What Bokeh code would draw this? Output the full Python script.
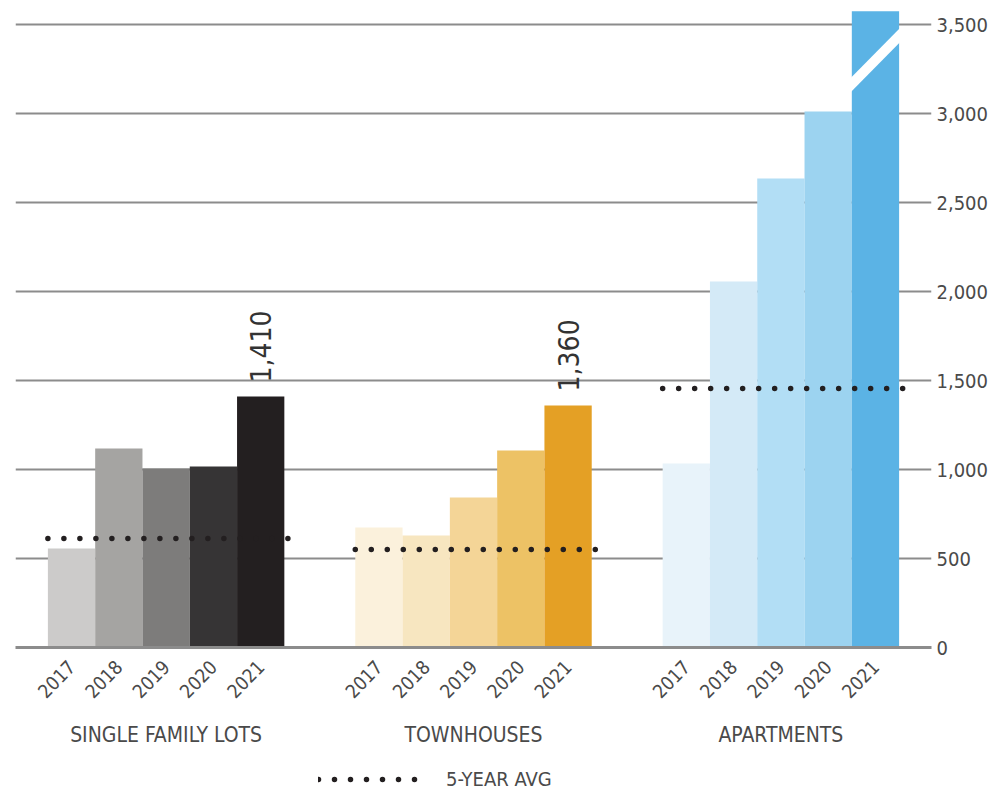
import math
from bokeh.plotting import figure
from bokeh.layouts import column
from bokeh.models import (ColumnDataSource, FactorRange, FixedTicker, NumeralTickFormatter,
                          Legend, LegendItem, Range1d)
from bokeh.core.properties import value
from bokeh.embed import file_html
from bokeh.resources import INLINE

# ---------------- data ----------------
categories = ["SINGLE FAMILY LOTS", "TOWNHOUSES", "APARTMENTS"]
years = ["2017", "2018", "2019", "2020", "2021"]
single_family = [556, 1118, 1006, 1017, 1410]
townhouses = [674, 629, 843, 1107, 1360]
apartments = [1034, 2056, 2635, 3011, 3575]   # 2021 bar is drawn truncated (axis break)
five_year_avg = [612, 551, 1455]
value_labels = ["1,410", "1,360"]               # labels on the 2021 bars of the first two groups
y_ticks = [0, 500, 1000, 1500, 2000, 2500, 3000, 3500]
legend_label = "5-YEAR AVG"

# ---------------- styles ----------------
palettes = [
    ["#cccbca", "#a5a4a2", "#7d7c7b", "#363435", "#231f20"],
    ["#fbf1dc", "#f7e6c0", "#f4d597", "#edc265", "#e4a025"],
    ["#e8f3fa", "#d4eaf7", "#b2def5", "#9cd3f0", "#5bb3e5"],
]
FONT = "DejaVu Sans Condensed"
TEXT = "#4a4a4a"
GRID = "#8c8c8c"
DOT = dict(line_color="#231f20", line_width=5.5, line_dash="0 16", line_cap="round")

series = [single_family, townhouses, apartments]
factors, tops, colors = [], [], []
for c, vals, pal in zip(categories, series, palettes):
    for y, v, col in zip(years, vals, pal):
        factors.append((c, y))
        tops.append(v)
        colors.append(col)
bars = ColumnDataSource(dict(x=factors, top=tops, color=colors))

x_range = FactorRange(*factors, factor_padding=0.0, group_padding=1.5,
                      range_padding=0.685, range_padding_units="absolute")

p = figure(x_range=x_range, y_range=Range1d(0, 3635),
           width=990, height=751,
           min_border_left=15, min_border_right=0, min_border_top=0, min_border_bottom=104,
           y_axis_location="right", toolbar_location=None, output_backend="svg")

p.vbar(x="x", top="top", width=1.0, source=bars, fill_color="color", line_color=None)

# five-year averages (dotted)
avg_src = ColumnDataSource(dict(
    x0=[(c, years[0], -0.5) for c in categories],
    x1=[(c, years[-1], 0.58) for c in categories],
    y=five_year_avg))
p.segment(x0="x0", y0="y", x1="x1", y1="y", source=avg_src, **DOT)

# axis-break marker on the truncated apartment bar
brk_src = ColumnDataSource(dict(x0=[(categories[2], years[-1], -0.6)],
                                x1=[(categories[2], years[-1], 0.6)],
                                y0=[apartments[-1] - 436], y1=[apartments[-1] - 113]))
p.segment(x0="x0", y0="y0", x1="x1", y1="y1", source=brk_src,
          line_color="white", line_width=10)

# value labels
lab_src = ColumnDataSource(dict(x=[(categories[0], years[-1]), (categories[1], years[-1])],
                                y=[single_family[-1], townhouses[-1]], t=value_labels))
p.text(x="x", y="y", text="t", source=lab_src, angle=math.pi / 2,
       text_align="left", text_baseline="middle", y_offset=-14,
       text_font=value(FONT), text_font_size="28px", text_color="#333333")

# axes
p.yaxis.ticker = FixedTicker(ticks=y_ticks)
p.yaxis.formatter = NumeralTickFormatter(format="0,0")
p.yaxis.axis_line_color = None
p.yaxis.major_tick_line_color = None
p.yaxis.major_tick_out = 0
p.yaxis.major_tick_in = 0
p.yaxis.minor_tick_line_color = None
p.yaxis.minor_tick_out = 0
p.yaxis.major_label_standoff = 5
p.yaxis.major_label_text_font = FONT
p.yaxis.major_label_text_font_size = "20px"
p.yaxis.major_label_text_color = TEXT

p.xaxis.axis_line_color = GRID
p.xaxis.axis_line_width = 3
p.xaxis.major_tick_line_color = None
p.xaxis.major_tick_out = 0
p.xaxis.minor_tick_line_color = None
p.xaxis.separator_line_color = None
p.xaxis.major_label_orientation = 0.8
p.xaxis.major_label_standoff = 16
p.xaxis.major_label_text_font = FONT
p.xaxis.major_label_text_font_size = "19px"
p.xaxis.major_label_text_color = TEXT
p.xaxis.group_text_font = FONT
p.xaxis.group_text_font_size = "21px"
p.xaxis.group_text_font_style = "normal"
p.xaxis.group_text_color = TEXT

p.xgrid.grid_line_color = None
p.ygrid.grid_line_color = GRID
p.ygrid.grid_line_width = 2
p.outline_line_color = None

# legend strip below the chart (key renderer sits outside the visible range)
lg = figure(width=990, height=40, x_range=Range1d(0, 1), y_range=Range1d(0, 1),
            min_border_left=0, min_border_right=0, min_border_top=0, min_border_bottom=0,
            toolbar_location=None, output_backend="svg")
lg.axis.visible = False
lg.grid.visible = False
lg.outline_line_color = None
key = lg.segment(x0=[5], y0=[5], x1=[6], y1=[5], **DOT)
legend = Legend(items=[LegendItem(label=legend_label, renderers=[key])],
                orientation="horizontal", location=(303, 0),
                glyph_width=100, glyph_height=20, label_standoff=28,
                padding=4, margin=0, border_line_color=None, background_fill_alpha=0,
                label_text_font=FONT, label_text_font_size="20px", label_text_color=TEXT)
lg.add_layout(legend)

open("out.html", "w").write(file_html(column(p, lg, spacing=0), INLINE))
